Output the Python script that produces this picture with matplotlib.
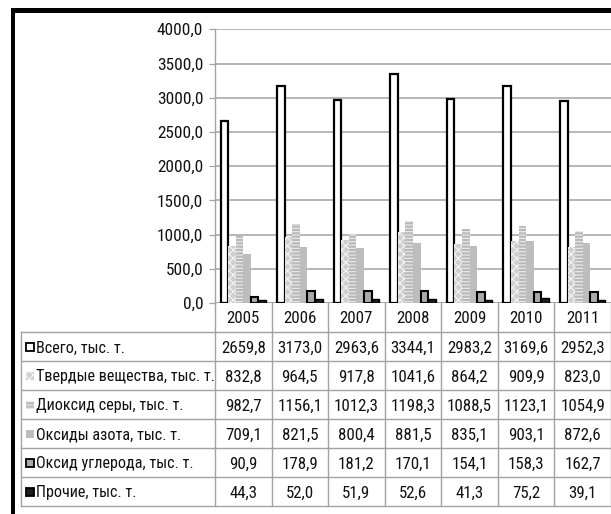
import matplotlib
matplotlib.use("Agg")
import matplotlib.pyplot as plt
from matplotlib.patches import Rectangle
from matplotlib.ticker import FuncFormatter
from matplotlib import font_manager
import numpy as np

# ---- data -------------------------------------------------------------
years = ["2005", "2006", "2007", "2008", "2009", "2010", "2011"]
series_names = [
    "Всего, тыс. т.",
    "Твердые вещества, тыс. т.",
    "Диоксид серы, тыс. т.",
    "Оксиды азота, тыс. т.",
    "Оксид углерода, тыс. т.",
    "Прочие, тыс. т.",
]
total = [2659.8, 3173.0, 2963.6, 3344.1, 2983.2, 3169.6, 2952.3]
solids = [832.8, 964.5, 917.8, 1041.6, 864.2, 909.9, 823.0]
sulfur_dioxide = [982.7, 1156.1, 1012.3, 1198.3, 1088.5, 1123.1, 1054.9]
nitrogen_oxides = [709.1, 821.5, 800.4, 881.5, 835.1, 903.1, 872.6]
carbon_monoxide = [90.9, 178.9, 181.2, 170.1, 154.1, 158.3, 162.7]
other = [44.3, 52.0, 51.9, 52.6, 41.3, 75.2, 39.1]
y_ticks = [0, 500, 1000, 1500, 2000, 2500, 3000, 3500, 4000]

series = [total, solids, sulfur_dioxide, nitrogen_oxides, carbon_monoxide, other]

# ---- styles -----------------------------------------------------------
styles = [
    dict(face="white", edge="black", lw=1.6, hatch=None, hatch_col=None),
    dict(face="#cfcfcf", edge=None, lw=0, hatch="xxxx", hatch_col="#f4f4f4"),
    dict(face="#b9b9b9", edge=None, lw=0, hatch="-----", hatch_col="#ececec"),
    dict(face="#bdbdbd", edge=None, lw=0, hatch=None, hatch_col=None),
    dict(face="#a9a9a9", edge="black", lw=1.5, hatch=None, hatch_col=None),
    dict(face="#1c1c1c", edge="black", lw=1.0, hatch=None, hatch_col=None),
]

# pick a narrow sans face if one is available
fonts = font_manager.fontManager.ttflist
names = {f.name for f in fonts}
condensed = {f.name for f in fonts
             if str(f.stretch) in ("condensed", "semi-condensed", "extra-condensed", "75", "87.5", "62.5")
             or "Condensed" in f.fname or "Narrow" in f.fname}
narrow_family = None
for cand in ["Liberation Sans Narrow", "Roboto Condensed", "Open Sans Condensed",
             "Noto Sans Condensed", "DejaVu Sans Condensed"]:
    if cand in names:
        narrow_family = cand
        break
stretch = "normal"
if narrow_family is None:
    for cand in ["Liberation Sans", "Roboto", "Noto Sans", "Open Sans", "DejaVu Sans"]:
        if cand in condensed:
            narrow_family = cand
            stretch = "condensed"
            break
is_narrow = narrow_family is not None
if narrow_family is None:
    narrow_family = "Liberation Sans"

plt.rcParams["font.family"] = [narrow_family, "Liberation Sans", "DejaVu Sans"]
plt.rcParams["font.stretch"] = stretch
plt.rcParams["hatch.linewidth"] = 0.8

W, H = 611, 514
fig = plt.figure(figsize=(W / 100, H / 100), dpi=100)
fig.patch.set_facecolor("white")

GRID = "#a3a3a3"
TXT = "#111111"
FS_TICK = 12.4 if is_narrow else 10.5
FS_NUM = 12.2 if is_narrow else 10
FS_LAB = 11.6 if is_narrow else 9.6

# plot area geometry (pixels)
x_axis_left, x_right = 215, 611
y_top, y_zero = 29.3, 303
col_w = (x_right - x_axis_left) / len(years)
row_h = 29.0
tab_left = 21
tab_bottom = y_zero + row_h * 7


def add_axes_px(l, t, r, b):
    return fig.add_axes([l / W, 1 - b / H, (r - l) / W, (b - t) / H])


ax = add_axes_px(x_axis_left, y_top, x_right, y_zero)
ax.set_xlim(0, len(years))
ax.set_ylim(0, 4000)

n = len(series)
bar_w = 0.134
start = (1 - n * bar_w) / 2
xs = np.arange(len(years))
for k, (vals, st) in enumerate(zip(series, styles)):
    pos = xs + start + bar_w * (k + 0.5)
    bars = ax.bar(pos, vals, width=bar_w, color=st["face"], linewidth=0,
                  zorder=3)
    for b in bars:
        if st["hatch"]:
            b.set_hatch(st["hatch"])
            b.set_edgecolor(st["hatch_col"])
        if st["edge"]:
            b.set_edgecolor(st["edge"])
            b.set_linewidth(st["lw"])

ax.set_yticks(y_ticks)
ax.yaxis.set_major_formatter(FuncFormatter(lambda v, p: f"{v:.1f}".replace(".", ",")))
ax.set_xticks([])
ax.tick_params(axis="y", length=4.5, width=0.9, color=GRID, labelsize=FS_TICK, pad=4,
               labelcolor=TXT)
ax.yaxis.grid(True, color=GRID, linewidth=1.1)
ax.set_axisbelow(True)
for s in ["top", "right", "bottom"]:
    ax.spines[s].set_visible(False)
ax.spines["left"].set_color(GRID)
ax.spines["left"].set_linewidth(1.0)
ax.axhline(0, color=GRID, linewidth=1.1, zorder=1)

# ---- data table under the chart --------------------------------------
tab = add_axes_px(tab_left, y_zero, x_right, tab_bottom)
label_w = (x_axis_left - tab_left) / col_w
tab.set_xlim(-label_w, len(years))
tab.set_ylim(7, 0)
tab.axis("off")

lk = dict(color=GRID, linewidth=1.0, clip_on=False)
for i in range(len(years) + 1):
    tab.plot([i, i], [0, 7], **lk)
tab.plot([-label_w, -label_w], [1, 7], **lk)
for r in range(1, 8):
    tab.plot([-label_w, len(years)], [r, r], **lk)

for i, yr in enumerate(years):
    tab.text(i + 0.5, 0.55, yr, ha="center", va="center", fontsize=FS_NUM, color=TXT)

px_x = 1 / col_w
px_y = 1 / row_h
for r, (name, vals, st) in enumerate(zip(series_names, series, styles), start=1):
    sq = 8
    x0 = -label_w + 5 * px_x
    y0 = r + 0.5 - sq / 2 * px_y
    rect = Rectangle((x0, y0), sq * px_x, sq * px_y, facecolor=st["face"],
                     linewidth=0, clip_on=False)
    if st["hatch"]:
        rect.set_hatch(st["hatch"])
        rect.set_edgecolor(st["hatch_col"])
    if st["edge"]:
        rect.set_edgecolor(st["edge"])
        rect.set_linewidth(1.3)
    tab.add_patch(rect)
    tab.text(-label_w + 15.5 * px_x, r + 0.55, name, ha="left", va="center",
             fontsize=FS_LAB, color=TXT)
    for i, v in enumerate(vals):
        tab.text(i + 0.5, r + 0.55, f"{v:.1f}".replace(".", ","), ha="center",
                 va="center", fontsize=FS_NUM, color=TXT)

# frame lines along the top and left edge
fig.add_artist(Rectangle((11 / W, 0), 4 / W, 1 - 8 / H, transform=fig.transFigure,
                         facecolor="black", edgecolor="none"))
fig.add_artist(Rectangle((11 / W, 1 - 12.5 / H), 1 - 11 / W, 4.5 / H,
                         transform=fig.transFigure, facecolor="black", edgecolor="none"))

fig.savefig("out.png", dpi=100)
